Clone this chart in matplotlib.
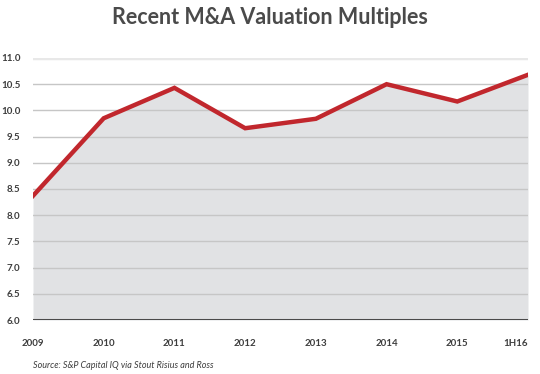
import matplotlib
matplotlib.use("Agg")
import matplotlib.pyplot as plt

years = ["2009", "2010", "2011", "2012", "2013", "2014", "2015", "1H16"]
multiples = [8.37, 9.85, 10.43, 9.66, 9.84, 10.50, 10.17, 10.68]
yticks = [6.0, 6.5, 7.0, 7.5, 8.0, 8.5, 9.0, 9.5, 10.0, 10.5, 11.0]

plt.rcParams['font.family'] = ['Lato', 'DejaVu Sans']

fig = plt.figure(figsize=(5.4, 3.74), dpi=100)
ax = fig.add_axes([33/540, 1-320/374, (528-33)/540, (320-58)/374])

x = list(range(len(years)))
ax.fill_between(x, 6.0, multiples, color="#e1e2e4", zorder=1, linewidth=0)
for t in yticks[1:-1]:
    ax.axhline(t, color="#c6c6c6", linewidth=1, zorder=2)
ax.axhline(11.0, color="#e8e8e8", linewidth=2.5, zorder=2)
ax.plot(x, multiples, color="#c1272d", linewidth=3.2, zorder=3, solid_joinstyle="miter")
ax.axhline(6.0, color="#4a4a4a", linewidth=2.2, zorder=4)

ax.set_xlim(0, len(years) - 1)
ax.set_ylim(6.0, 11.0)
ax.set_yticks(yticks)
ax.set_yticklabels([f"{t:.1f}" for t in yticks])
ax.set_xticks(x)
ax.set_xticklabels(years)
for s in ax.spines.values():
    s.set_visible(False)
ax.tick_params(length=0, colors="#3d3d3d", labelsize=7)
ax.tick_params(axis="y", pad=9)
ax.tick_params(axis="x", pad=14)
for lbl in ax.get_xticklabels() + ax.get_yticklabels():
    lbl.set_fontweight("bold")
ax.get_xticklabels()[-1].set_horizontalalignment("right")
ax.get_xticklabels()[-1].set_x(len(years) - 1)

fig.text(0.5, 1-17/374, "Recent M&A Valuation Multiples", ha="center", va="center",
         fontsize=15.5, fontweight="bold", color="#4a4a4a")
fig.text(33/540, 1-366/374, "Source: S&P Capital IQ via Stout Risius and Ross", ha="left",
         va="center", fontsize=6.5, style="italic", color="#3d3d3d")

fig.savefig("out.png", dpi=100)
